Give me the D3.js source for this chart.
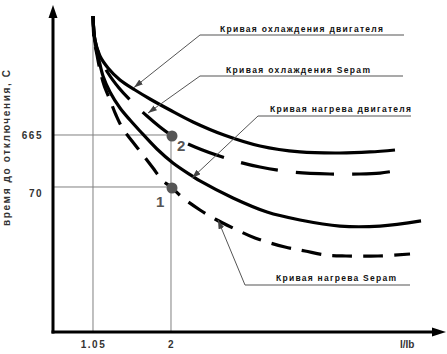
<!DOCTYPE html>
<html lang="ru">
<head>
<meta charset="utf-8">
<script src="https://d3js.org/d3.v7.min.js"></script>
<style>
  body { margin: 0; background: #fff; }
  svg { display: block; font-family: "Liberation Sans", Arial, sans-serif; font-weight: bold; }
</style>
</head>
<body>
<div id="chart"></div>
<script>
// tick labels
const xTicks = [1.05, 2];
const yTicks = [70, 665];

// curve names (callouts)
const curveNames = [
  "Кривая охлаждения двигателя",
  "Кривая охлаждения Sepam",
  "Кривая нагрева двигателя",
  "Кривая нагрева Sepam"
];

// [I/Ib, trip time s] (log time axis)
const coolMotor = [[1.05,115000],[1.074,40600],[1.135,20300],[1.233,12100],[1.379,7190],[1.562,4660],
  [1.744,3160],[1.988,1960],[2.268,1170],[2.646,665],[3.084,413],[3.571,319],[4.058,305],[4.424,319],[4.728,347]];
const coolSepam = [[1.05,115000],[1.074,40600],[1.135,19460],[1.233,9740],[1.367,5090],[1.501,3030],
  [1.708,1510],[1.866,940],[2.0,665],[2.292,395],[2.743,225],[3.084,166],[3.474,134],[3.936,123],[4.302,123],[4.545,128],[4.728,140]];
const heatMotor = [[1.05,115000],[1.074,37250],[1.123,17090],[1.172,8550],[1.257,4280],[1.379,2140],
  [1.501,1270],[1.622,790],[1.829,363],[2.024,198],[2.256,113],[2.353,91],[2.755,43.5],[3.169,23.7],
  [3.571,16.8],[4.058,12.9],[4.545,12.9],[5.045,16.1]];
const heatSepam = [[1.05,115000],[1.062,44300],[1.099,21200],[1.135,11090],[1.184,5790],[1.257,3030],
  [1.33,1580],[1.415,862],[1.525,513],[1.659,280],[1.781,159],[1.89,95],[2.0,70],[2.146,43.5],[2.353,25.9],
  [2.536,17.5],[2.804,10.9],[3.023,7.7],[3.388,5.21],[3.632,4.38],[3.876,3.69],[4.131,3.53],[4.521,3.53],[4.911,3.85]];

// marked operating points
const markedPoints = [
  {x: 2, t: 70, label: "1"},
  {x: 2, t: 665, label: "2"}
];

// set the dimensions and margins of the graph
const width = 447, height = 354;
const margin = {top: 10, right: 2, bottom: 22, left: 53};
const bottom = height - margin.bottom;

const svg = d3.select("#chart").append("svg")
  .attr("width", width)
  .attr("height", height);

const x = d3.scaleLinear().domain([0.563, 5.337]).range([margin.left, width - margin.right]);
const y = d3.scaleLog().domain([0.1315, 148900]).range([bottom, margin.top]);

// arrowhead for callout leaders
svg.append("defs").append("marker")
  .attr("id", "tip")
  .attr("markerUnits", "userSpaceOnUse")
  .attr("markerWidth", 9).attr("markerHeight", 6)
  .attr("refX", 9).attr("refY", 3)
  .attr("orient", "auto")
  .append("path").attr("d", "M0,0 L9,3 L0,6 z").attr("fill", "#444");

// thin reference lines
const grid = svg.append("g").attr("stroke", "#808080").attr("stroke-width", 1);
grid.append("line").attr("x1", x(1.05)).attr("x2", x(1.05)).attr("y1", y(115000)).attr("y2", bottom);
grid.append("line").attr("x1", x(2)).attr("x2", x(2)).attr("y1", y(665)).attr("y2", bottom);
yTicks.forEach(function(t) {
  grid.append("line").attr("x1", margin.left).attr("x2", x(2)).attr("y1", y(t)).attr("y2", y(t));
});

// curves
const line = d3.line()
  .x(function(d) { return x(d[0]); })
  .y(function(d) { return y(d[1]); })
  .curve(d3.curveCatmullRom.alpha(0.5));

const series = [
  {data: coolMotor, dash: null},
  {data: coolSepam, dash: "38,18"},
  {data: heatMotor, dash: null},
  {data: heatSepam, dash: "20,11"}
];
svg.append("g").selectAll("path")
  .data(series)
  .enter().append("path")
  .attr("d", function(d) { return line(d.data); })
  .attr("fill", "none")
  .attr("stroke", "#000")
  .attr("stroke-width", 3.2)
  .attr("stroke-dasharray", function(d) { return d.dash; });

// operating points
svg.append("g").selectAll("circle")
  .data(markedPoints)
  .enter().append("circle")
  .attr("cx", function(d) { return x(d.x) + 1; })
  .attr("cy", function(d) { return y(d.t) + 1; })
  .attr("r", 5.5)
  .attr("fill", "#555");
svg.append("g").selectAll("text")
  .data(markedPoints)
  .enter().append("text")
  .attr("x", function(d) { return d.label === "2" ? x(d.x) + 6 : x(d.x) - 15; })
  .attr("y", function(d) { return d.label === "2" ? y(d.t) + 16 : y(d.t) + 20; })
  .attr("font-size", 15)
  .attr("fill", "#555")
  .text(function(d) { return d.label; });

// axes lines with arrows
svg.append("line").attr("x1", margin.left).attr("x2", margin.left).attr("y1", bottom + 1.5).attr("y2", 16)
  .attr("stroke", "#000").attr("stroke-width", 3);
svg.append("path").attr("d", "M53,5 L48.5,18 L57.5,18 Z").attr("fill", "#000");
svg.append("line").attr("x1", margin.left - 1.5).attr("x2", 434).attr("y1", bottom).attr("y2", bottom)
  .attr("stroke", "#000").attr("stroke-width", 3);
svg.append("path").attr("d", "M446,332 L432,327.5 L432,336.5 Z").attr("fill", "#000");

// tick labels
const xAxis = svg.append("g")
  .attr("transform", "translate(0," + bottom + ")")
  .call(d3.axisBottom(x).tickValues(xTicks).tickSize(0).tickPadding(9).tickFormat(d3.format("")));
xAxis.select(".domain").remove();
xAxis.attr("font-family", null).attr("font-size", 10);
xAxis.selectAll("text").attr("fill", "#333").attr("letter-spacing", 1.5);

const yAxis = svg.append("g")
  .attr("transform", "translate(" + margin.left + ",0)")
  .call(d3.axisLeft(y).tickValues(yTicks).tickSize(0).tickPadding(10).tickFormat(d3.format("")));
yAxis.select(".domain").remove();
yAxis.attr("font-family", null).attr("font-size", 10);
yAxis.selectAll("text").attr("fill", "#333").attr("letter-spacing", 1.5)
  .attr("dy", function(d) { return d === 70 ? "0.95em" : "0.35em"; });

svg.append("text")
  .attr("x", 400).attr("y", 348)
  .attr("font-size", 10).attr("fill", "#333")
  .text("I/Ib");

svg.append("text")
  .attr("transform", "translate(10,148) rotate(-90)")
  .attr("text-anchor", "middle")
  .attr("font-size", 10).attr("fill", "#333")
  .attr("textLength", 156).attr("lengthAdjust", "spacing")
  .text("время до отключения, С");

// callouts
const callouts = [
  {name: 0, x1: 200, x2: 404, ly: 35, tx: 220, ty: 32, len: 163, tip: [1.55, 5200]},
  {name: 1, x1: 200, x2: 403, ly: 76, tx: 226, ty: 73, len: 144, tip: [1.72, 1720]},
  {name: 2, x1: 258, x2: 411, ly: 116, tx: 270, ty: 112, len: 141, tip: [2.256, 103]},
  {name: 3, x1: 245, x2: 410, ly: 285, tx: 276, ty: 281, len: 120, tip: [2.572, 16.8]}
];
const co = svg.append("g").selectAll("g").data(callouts).enter().append("g");
co.append("line")
  .attr("x1", function(d) { return d.x1; }).attr("x2", function(d) { return d.x2; })
  .attr("y1", function(d) { return d.ly; }).attr("y2", function(d) { return d.ly; })
  .attr("stroke", "#555").attr("stroke-width", 1.2);
co.append("line")
  .attr("x1", function(d) { return d.x1; }).attr("y1", function(d) { return d.ly; })
  .attr("x2", function(d) { return x(d.tip[0]); }).attr("y2", function(d) { return y(d.tip[1]); })
  .attr("stroke", "#555").attr("stroke-width", 1)
  .attr("marker-end", "url(#tip)");
co.append("text")
  .attr("x", function(d) { return d.tx; }).attr("y", function(d) { return d.ty; })
  .attr("font-size", 8.5).attr("fill", "#111")
  .attr("textLength", function(d) { return d.len; }).attr("lengthAdjust", "spacing")
  .text(function(d) { return curveNames[d.name]; });
</script>
</body>
</html>
